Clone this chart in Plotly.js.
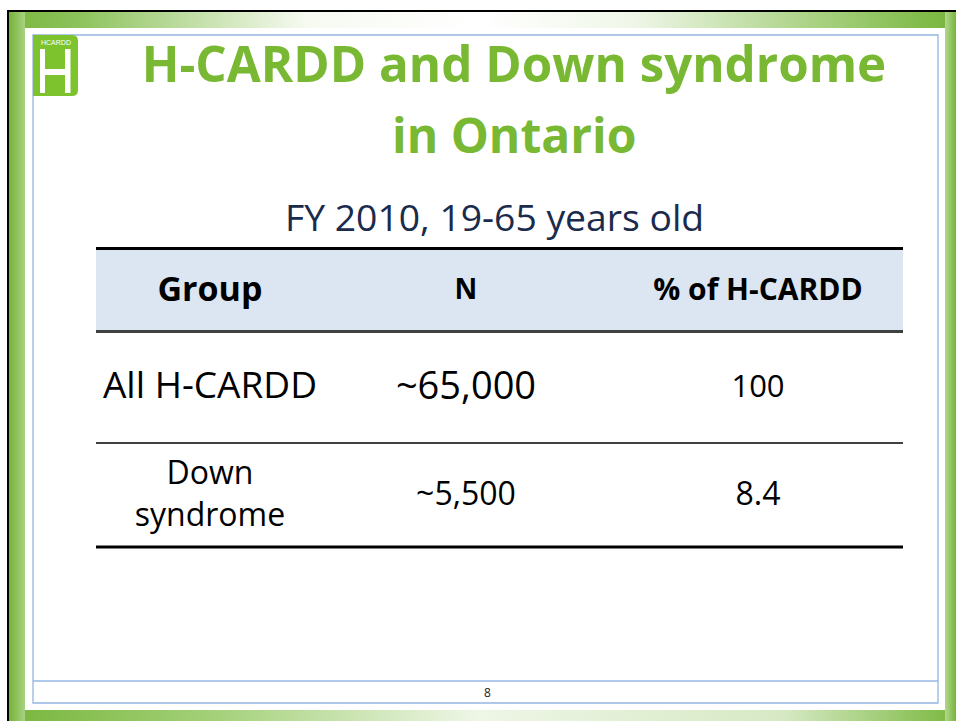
<!DOCTYPE html>
<html>
<head>
<meta charset="utf-8">
<script src="https://cdn.plot.ly/plotly-3.0.1.min.js"></script>
<style>
  html, body { margin: 0; padding: 0; background: #ffffff; }
  #chart { width: 956px; height: 721px; }
</style>
</head>
<body>
<div id="chart"></div>
<script>
// ---- Data ----
const titleLine1 = 'H-CARDD and Down syndrome';
const titleLine2 = 'in Ontario';
const subtitle = 'FY 2010, 19-65 years old';
const headers = ['Group', 'N', '% of H-CARDD'];
const groupLabels = ['All H-CARDD', 'Down<br>syndrome'];
const nValues = ['~65,000', '~5,500'];
const pctValues = [100, 8.4];
const slideNumber = '8';

// ---- Layout geometry (page pixels) ----
const W = 956, H = 721;
const colX = [210, 466, 758];
const headerY = 292;
const rowY = [389, 497];
const tableLeft = 96, tableRight = 903;
const FONT = 'Open Sans, Noto Sans, sans-serif';

// background frame with gradients
const bgSvg = `<svg xmlns="http://www.w3.org/2000/svg" width="956" height="721" viewBox="0 0 956 721">
<defs>
<linearGradient id="gt" x1="0" y1="0" x2="956" y2="0" gradientUnits="userSpaceOnUse">
<stop offset="0" stop-color="#78b63c"/><stop offset="0.08" stop-color="#8cc25a"/>
<stop offset="0.32" stop-color="#f6faf1"/><stop offset="0.5" stop-color="#ffffff"/>
<stop offset="0.66" stop-color="#f0f7e9"/><stop offset="0.86" stop-color="#a6d07f"/>
<stop offset="1" stop-color="#76b53a"/></linearGradient>
<linearGradient id="gb" x1="0" y1="0" x2="956" y2="0" gradientUnits="userSpaceOnUse">
<stop offset="0" stop-color="#76b53a"/><stop offset="0.22" stop-color="#a3d078"/>
<stop offset="0.5" stop-color="#eef6e6"/><stop offset="0.82" stop-color="#d6e9c4"/>
<stop offset="1" stop-color="#7ab83e"/></linearGradient>
<linearGradient id="gl" x1="9" y1="0" x2="25" y2="0" gradientUnits="userSpaceOnUse">
<stop offset="0" stop-color="#74b338"/><stop offset="1" stop-color="#a9d283"/></linearGradient>
<linearGradient id="gr" x1="945" y1="0" x2="956" y2="0" gradientUnits="userSpaceOnUse">
<stop offset="0" stop-color="#b2d78f"/><stop offset="1" stop-color="#76b53a"/></linearGradient>
</defs>
<rect width="956" height="721" fill="#ffffff"/>
<rect x="9" y="12" width="16" height="709" fill="url(#gl)"/>
<rect x="945" y="12" width="11" height="709" fill="url(#gr)"/>
<rect x="25" y="12" width="920" height="16" fill="url(#gt)"/>
<rect x="25" y="710" width="920" height="11" fill="url(#gb)"/>
<rect x="7" y="10" width="949" height="2" fill="#000000"/>
<rect x="7" y="10" width="2" height="711" fill="#000000"/>
</svg>`;
const bgUri = 'data:image/svg+xml;charset=utf-8,' + encodeURIComponent(bgSvg);

const textTrace = (xs, ys, texts, sizes) => ({
  type: 'scatter', mode: 'text', x: xs, y: ys, text: texts,
  textposition: 'middle center',
  textfont: { family: FONT, size: sizes, color: '#000000' },
  hoverinfo: 'skip', showlegend: false, cliponaxis: false
});

const data = [
  textTrace(colX, colX.map(() => headerY), headers.map(h => '<b>' + h + '</b>'), [34, 28, 30]),
  textTrace(groupLabels.map(() => colX[0]), rowY, groupLabels, [37, 32]),
  textTrace(nValues.map(() => colX[1]), rowY, nValues, [38, 32]),
  textTrace(pctValues.map(() => colX[2]), rowY, pctValues.map(v => String(v)), [31, 32])
];

const hline = (y, w, color) => ({
  type: 'line', xref: 'x', yref: 'y', x0: tableLeft, x1: tableRight, y0: y, y1: y,
  line: { color: color, width: w }
});

const shapes = [
  // inner light-blue slide frame and footer rule
  { type: 'rect', xref: 'x', yref: 'y', x0: 33, x1: 938, y0: 35, y1: 703,
    line: { color: '#95b6e4', width: 1.3 }, fillcolor: 'rgba(0,0,0,0)', layer: 'below' },
  { type: 'line', xref: 'x', yref: 'y', x0: 33, x1: 938, y0: 681, y1: 681,
    line: { color: '#95b6e4', width: 1.3 }, layer: 'below' },
  // table header fill
  { type: 'rect', xref: 'x', yref: 'y', x0: tableLeft, x1: tableRight, y0: 249, y1: 331,
    fillcolor: '#dce6f2', line: { width: 0 }, layer: 'below' },
  hline(248.5, 3, '#000000'),
  hline(331.5, 3, '#404040'),
  hline(443, 1.5, '#000000'),
  hline(547, 3, '#000000'),
  // logo
  { type: 'path', xref: 'x', yref: 'y',
    path: 'M33,35 L72,35 Q78,35 78,41 L78,90 Q78,96 72,96 L33,96 Z',
    fillcolor: '#7dc32d', line: { width: 0 } },
  { type: 'rect', xref: 'x', yref: 'y', x0: 40, x1: 45, y0: 49, y1: 93, fillcolor: '#ffffff', line: { width: 0 } },
  { type: 'rect', xref: 'x', yref: 'y', x0: 65, x1: 70.5, y0: 49, y1: 93, fillcolor: '#ffffff', line: { width: 0 } },
  { type: 'rect', xref: 'x', yref: 'y', x0: 45, x1: 65, y0: 69, y1: 75, fillcolor: '#ffffff', line: { width: 0 } }
];

const annotations = [
  { text: '<b>' + titleLine2 + '</b>', x: 514, y: 134, xref: 'x', yref: 'y', showarrow: false,
    xanchor: 'center', yanchor: 'middle', font: { family: FONT, size: 48, color: '#78b832' } },
  { text: subtitle, x: 494, y: 216, xref: 'x', yref: 'y', showarrow: false,
    xanchor: 'center', yanchor: 'middle', font: { family: FONT, size: 37.3, color: '#1a2b4c' } },
  { text: slideNumber, x: 487, y: 692, xref: 'x', yref: 'y', showarrow: false,
    xanchor: 'center', yanchor: 'middle', font: { family: FONT, size: 12, color: '#222222' } },
  { text: 'HCARDD', x: 55.5, y: 42, xref: 'x', yref: 'y', showarrow: false,
    xanchor: 'center', yanchor: 'middle', font: { family: 'Liberation Sans, Arial, sans-serif', size: 7, color: '#ffffff' } }
];

const layout = {
  width: W, height: H,
  margin: { l: 0, r: 0, t: 0, b: 0, pad: 0 },
  paper_bgcolor: 'rgba(0,0,0,0)', plot_bgcolor: 'rgba(0,0,0,0)',
  title: {
    text: '<b>' + titleLine1 + '</b>',
    font: { family: FONT, size: 49.3, color: '#78b832' },
    x: 514 / W, xanchor: 'center', xref: 'container',
    y: 1 - 65 / H, yanchor: 'middle', yref: 'container'
  },
  xaxis: { range: [0, W], visible: false, fixedrange: true },
  yaxis: { range: [H, 0], visible: false, fixedrange: true },
  images: [{ source: bgUri, xref: 'paper', yref: 'paper', x: 0, y: 1, sizex: 1, sizey: 1,
    xanchor: 'left', yanchor: 'top', sizing: 'stretch', layer: 'below' }],
  shapes: shapes,
  annotations: annotations,
  showlegend: false
};

Plotly.newPlot('chart', data, layout, { displayModeBar: false, staticPlot: true });
</script>
</body>
</html>
